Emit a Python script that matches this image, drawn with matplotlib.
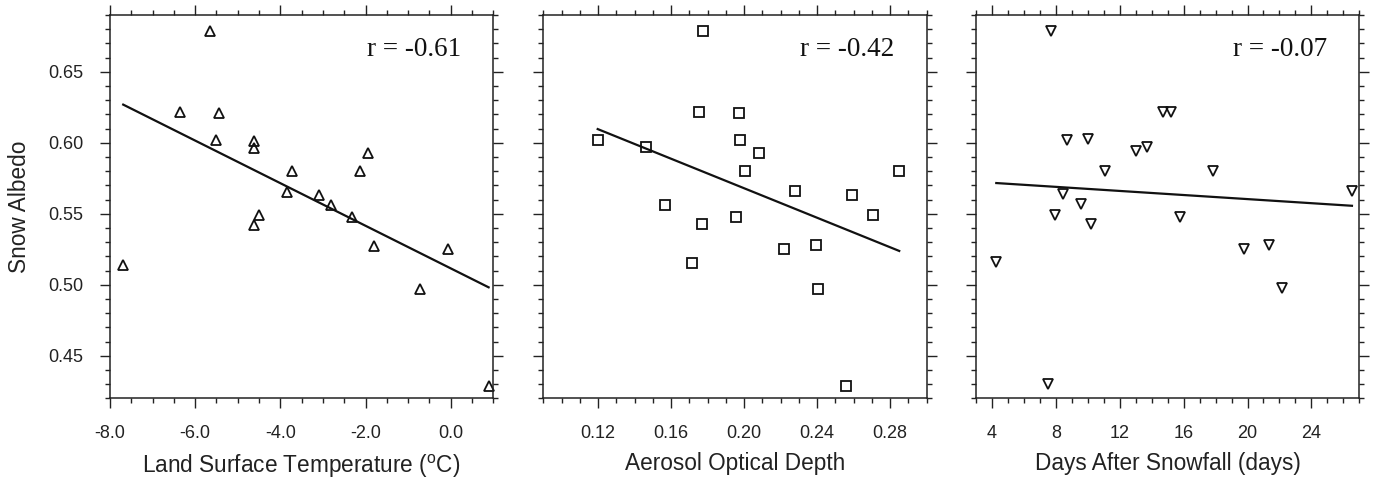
import matplotlib
matplotlib.use('Agg')
import matplotlib.pyplot as plt
from matplotlib.ticker import MultipleLocator, FormatStrFormatter
import numpy as np

plt.rcParams['font.family'] = ['Liberation Sans', 'DejaVu Sans']
plt.rcParams['mathtext.fontset'] = 'custom'
plt.rcParams['mathtext.rm'] = 'Liberation Sans'
plt.rcParams['axes.unicode_minus'] = False

# snow albedo (same samples in all three panels)
albedo = [0.679, 0.622, 0.621, 0.602, 0.601, 0.596, 0.580, 0.565, 0.563, 0.556,
          0.548, 0.593, 0.580, 0.549, 0.542, 0.527, 0.525, 0.497, 0.514, 0.429]
lst = [-5.66, -6.36, -5.44, -5.50, -4.62, -4.62, -3.73, -3.84, -3.09, -2.80,
       -2.32, -1.94, -2.14, -4.50, -4.62, -1.79, -0.07, -0.72, -7.69, 0.89]

albedo_aod = [0.679, 0.622, 0.621, 0.602, 0.597, 0.602, 0.593, 0.580, 0.580, 0.566,
              0.563, 0.556, 0.548, 0.549, 0.543, 0.525, 0.528, 0.515, 0.497, 0.429]
aod = [0.1775, 0.1751, 0.1974, 0.1198, 0.1463, 0.1979, 0.2080, 0.2003, 0.2850, 0.2280,
       0.2593, 0.1569, 0.1954, 0.2709, 0.1771, 0.2217, 0.2396, 0.1715, 0.2406, 0.2558]

albedo_days = [0.679, 0.622, 0.622, 0.602, 0.603, 0.594, 0.597, 0.580, 0.580, 0.566,
               0.564, 0.557, 0.549, 0.548, 0.543, 0.525, 0.528, 0.516, 0.498, 0.430]
days = [7.69, 14.73, 15.20, 8.71, 10.04, 13.00, 13.73, 11.10, 17.81, 26.54,
        8.46, 9.56, 7.96, 15.77, 10.23, 19.75, 21.37, 4.27, 22.14, 7.50]

r_labels = ['r = -0.61', 'r = -0.42', 'r = -0.07']
xlabels = [r'Land Surface Temperature ($^{\rm o}$C)', 'Aerosol Optical Depth',
           'Days After Snowfall (days)']

panels = [
    (lst, albedo, '^', (-8.0, 1.0), 2.0, 0.5, '%.1f'),
    (aod, albedo_aod, 's', (0.09, 0.30), 0.04, 0.01, '%.2f'),
    (days, albedo_days, 'v', (3, 27), 4, 1, '%d'),
]

fig = plt.figure(figsize=(13.73, 4.87), dpi=100)
lefts = [110 / 1373, 543.3 / 1373, 976 / 1373]
w = 383.3 / 1373
b = 88.7 / 487
h = 383.3 / 487

for i, (x, y, mk, xlim, major, minor, fmt) in enumerate(panels):
    ax = fig.add_axes([lefts[i], b, w, h])
    ax.plot(x, y, linestyle='none', marker=mk, ms=6.8 if mk == 's' else 7.2,
            mfc='none', mec='#111111', mew=1.3, clip_on=False)
    k, c = np.polyfit(x, y, 1)
    xx = np.array([min(x), max(x)])
    ax.plot(xx, k * xx + c, color='#111111', lw=1.6)

    ax.set_xlim(*xlim)
    ax.set_ylim(0.42, 0.69)
    ax.xaxis.set_major_locator(MultipleLocator(major))
    ax.xaxis.set_minor_locator(MultipleLocator(minor))
    ax.xaxis.set_major_formatter(FormatStrFormatter(fmt))
    ax.yaxis.set_major_locator(MultipleLocator(0.05))
    ax.yaxis.set_minor_locator(MultipleLocator(0.01))
    ax.yaxis.set_major_formatter(FormatStrFormatter('%.2f'))
    ax.tick_params(which='both', direction='out', top=True, right=True,
                   width=1.0, color='#222222', labelsize=13, labelcolor='#222222')
    ax.tick_params(which='major', length=7.2, pad=12)
    ax.tick_params(which='minor', length=3.6)
    if i > 0:
        ax.tick_params(axis='y', labelleft=False)
    for s in ax.spines.values():
        s.set_linewidth(1.1)
        s.set_color('#222222')

    ax.set_xlabel(xlabels[i], fontsize=16.3, color='#222222', labelpad=7.5)
    if i == 0:
        ax.set_ylabel('Snow Albedo', fontsize=16.3, color='#222222', labelpad=12)
    ax.text(0.915, 0.91, r_labels[i], transform=ax.transAxes, ha='right', va='center',
            fontsize=19.5, family='Liberation Serif', color='#111111')

fig.savefig('out.png', dpi=100)
